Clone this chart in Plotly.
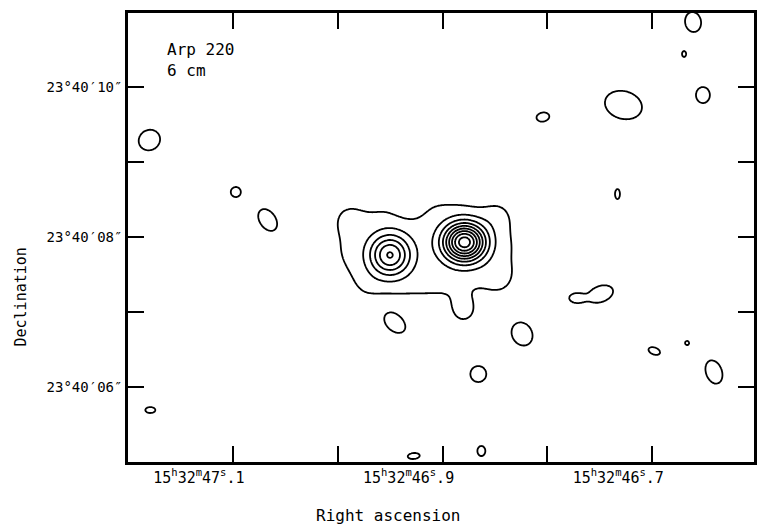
import numpy as np
import plotly.graph_objects as go

# Emission components: RA (seconds of 15h32m), Dec (arcsec of 23d40'),
# peak (contour units), semi-axes (arcsec), position angle (deg), profile power
comp_name = ["west nucleus", "east nucleus", "envelope", "env tail", "env dip",
             "env NW", "env NE", "env SW", "env SE",
             "n1", "n2", "n3", "n4", "n5", "n6", "n7", "n8", "n9", "n10",
             "n11", "n12", "n13", "n14", "n15", "n17a", "n17b", "n19", "n20", "n21"]
comp_ra = [46.8791, 46.9502, 46.9162, 46.8801, 46.9322,
           46.9910, 46.8460, 46.9740, 46.8450,
           47.1796, 47.0972, 47.0668, 47.1787, 46.9275, 46.8630, 46.8659, 46.8242, 46.9455, 46.8043,
           46.7275, 46.6611, 46.6697, 46.6517, 46.7332, 46.7730, 46.7493, 46.6981, 46.6668, 46.6412]
comp_dec = [7.930, 7.760, 7.840, 7.027, 8.427,
            8.290, 8.330, 7.280, 7.400,
            9.293, 8.600, 8.227, 5.693, 5.080, 5.147, 6.173, 6.707, 6.853, 9.600,
            9.760, 10.867, 10.440, 9.893, 8.573, 7.187, 7.240, 6.480, 6.587, 6.200]
comp_amp = [8.3, 4.8, 1.3, 1.5, -0.65,
            0.7, 0.7, 0.4, 0.7,
            1.6, 1.6, 1.6, 1.6, 1.6, 1.6, 1.6, 1.6, 1.6, 1.6,
            1.6, 1.6, 1.6, 1.6, 1.6, 1.6, 1.6, 1.6, 1.6, 1.6]
comp_sa = [0.193, 0.187, 0.990, 0.133, 0.170,
           0.160, 0.160, 0.160, 0.160,
           0.151, 0.069, 0.165, 0.069, 0.083, 0.069, 0.110, 0.165, 0.165, 0.089,
           0.260, 0.138, 0.041, 0.110, 0.069, 0.083, 0.179, 0.083, 0.028, 0.165]
comp_sb = [0.173, 0.187, 0.520, 0.133, 0.160,
           0.160, 0.160, 0.160, 0.160,
           0.138, 0.069, 0.110, 0.041, 0.041, 0.055, 0.110, 0.138, 0.110, 0.062,
           0.190, 0.110, 0.028, 0.096, 0.034, 0.055, 0.110, 0.048, 0.028, 0.110]
comp_pa = [0, 0, 0, 0, 0,
           0, 0, 0, 0,
           30, 0, -55, 0, 5, 90, 0, -60, -40, 10,
           -15, 100, 90, 90, 90, 0, 20, -20, 0, -70]
comp_power = [1, 1, 3, 1, 1,
              1, 1, 1, 1,
              1, 1, 1, 1, 1, 1, 1, 1, 1, 1,
              1, 1, 1, 1, 1, 1, 1, 1, 1, 1]

contour_levels = dict(start=1, end=12, size=1)

ra_ticks = [47.1, 47.0, 46.9, 46.8, 46.7]
ra_labels = ["15<sup>h</sup>32<sup>m</sup>47<sup>s</sup>.1", "",
             "15<sup>h</sup>32<sup>m</sup>46<sup>s</sup>.9", "",
             "15<sup>h</sup>32<sup>m</sup>46<sup>s</sup>.7"]
dec_ticks = [10, 9, 8, 7, 6]
dec_labels = ["23°40′10″", "", "23°40′08″", "", "23°40′06″"]

# ---------------- build the map ----------------
RA_SCALE = 14.07  # plot arcsec per second of RA
ra_grid = np.arange(46.600, 47.2005, 0.001)
dec_grid = np.arange(5.0, 11.0001, 0.0133)
RA, DEC = np.meshgrid(ra_grid, dec_grid)
Z = np.zeros_like(RA)
for ra0, dec0, amp, sa, sb, pa, pw in zip(comp_ra, comp_dec, comp_amp, comp_sa,
                                          comp_sb, comp_pa, comp_power):
    u = (ra0 - RA) * RA_SCALE
    v = DEC - dec0
    t = np.deg2rad(pa)
    a = u * np.cos(t) + v * np.sin(t)
    b = -u * np.sin(t) + v * np.cos(t)
    q = 0.5 * ((a / sa) ** 2 + (b / sb) ** 2)
    Z += amp * np.exp(-q ** pw)

FONT = "DejaVu Sans Mono"
fig = go.Figure()
fig.add_trace(go.Contour(
    x=ra_grid, y=dec_grid, z=Z.astype(np.float32),
    contours=dict(coloring="lines", **contour_levels),
    colorscale=[[0, "black"], [1, "black"]],
    showscale=False, line=dict(width=1.8, smoothing=1), hoverinfo="skip"))

fig.update_layout(
    width=759, height=527,
    margin=dict(l=128, r=2, t=13, b=65),
    paper_bgcolor="white", plot_bgcolor="white",
    showlegend=False,
    font=dict(family=FONT, color="black"),
    xaxis=dict(range=[47.2, 46.603], tickvals=ra_ticks, ticktext=ra_labels,
               ticks="inside", ticklen=16, tickwidth=1.5, tickcolor="black",
               mirror="ticks", showline=True, linewidth=2.5, linecolor="black",
               showgrid=False, zeroline=False, ticklabelshift=34,
               tickfont=dict(family=FONT, size=15)),
    yaxis=dict(range=[5.0, 10.987], tickvals=dec_ticks, ticktext=dec_labels,
               ticks="inside", ticklen=16, tickwidth=1.5, tickcolor="black",
               mirror="ticks", showline=True, linewidth=2.5, linecolor="black",
               showgrid=False, zeroline=False,
               tickfont=dict(family=FONT, size=14)),
    annotations=[
        dict(text="Arp 220<br>6 cm", xref="paper", yref="paper",
             x=(165 - 128) / 629, y=(462 - 38) / 449, xanchor="left", yanchor="top",
             align="left", showarrow=False, font=dict(family=FONT, size=16)),
        dict(text="Right ascension", xref="paper", yref="paper",
             x=(390 - 128) / 629, y=(462 - 515) / 449, xanchor="center", yanchor="middle",
             showarrow=False, font=dict(family=FONT, size=16)),
        dict(text="Declination", xref="paper", yref="paper", textangle=-90,
             x=(20 - 128) / 629, y=(462 - 297) / 449, xanchor="center", yanchor="middle",
             showarrow=False, font=dict(family=FONT, size=15)),
    ],
)
fig.write_html("out.html", config={"displayModeBar": False},
               post_script="document.body.style.margin='0';")
